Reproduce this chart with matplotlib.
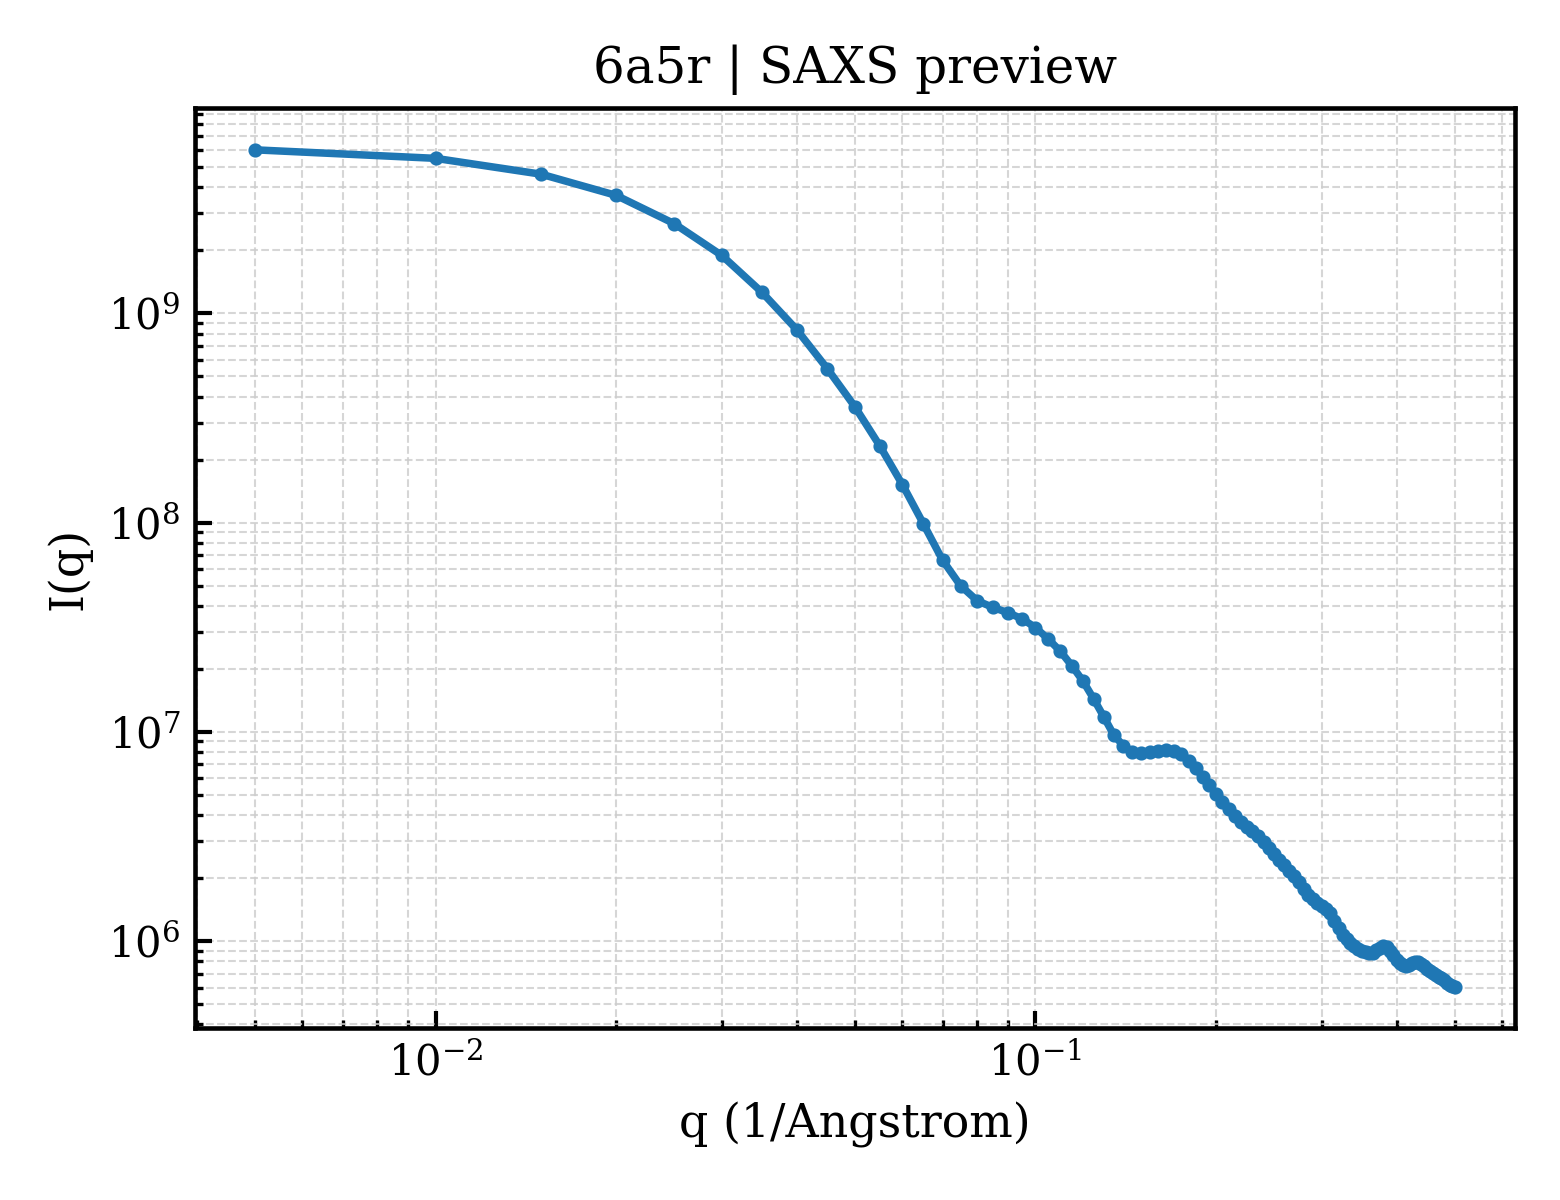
import numpy as np
import matplotlib
matplotlib.use("Agg")
import matplotlib.pyplot as plt

plt.rcParams['font.family'] = 'serif'
plt.rcParams['font.serif'] = ['DejaVu Serif']

# scattering vector q (1/Angstrom), 0.005 .. 0.5
q = [0.005, 0.010, 0.015, 0.020, 0.025, 0.030, 0.035, 0.040, 0.045, 0.050,
     0.055, 0.060, 0.065, 0.070, 0.075, 0.080, 0.085, 0.090, 0.095, 0.100,
     0.105, 0.110, 0.115, 0.120, 0.125, 0.130, 0.135, 0.140, 0.145, 0.150,
     0.155, 0.160, 0.165, 0.170, 0.175, 0.180, 0.185, 0.190, 0.195, 0.200,
     0.205, 0.210, 0.215, 0.220, 0.225, 0.230, 0.235, 0.240, 0.245, 0.250,
     0.255, 0.260, 0.265, 0.270, 0.275, 0.280, 0.285, 0.290, 0.295, 0.300,
     0.305, 0.310, 0.315, 0.320, 0.325, 0.330, 0.335, 0.340, 0.345, 0.350,
     0.355, 0.360, 0.365, 0.370, 0.375, 0.380, 0.385, 0.390, 0.395, 0.400,
     0.405, 0.410, 0.415, 0.420, 0.425, 0.430, 0.435, 0.440, 0.445, 0.450,
     0.455, 0.460, 0.465, 0.470, 0.475, 0.480, 0.485, 0.490, 0.495, 0.500]

# intensity I(q)
intensity = [6.04e9, 5.50e9, 4.62e9, 3.66e9, 2.68e9, 1.89e9, 1.26e9, 8.35e8, 5.43e8, 3.58e8,
             2.33e8, 1.52e8, 9.90e7, 6.62e7, 5.00e7, 4.23e7, 3.93e7, 3.71e7, 3.47e7, 3.15e7,
             2.78e7, 2.43e7, 2.07e7, 1.75e7, 1.44e7, 1.18e7, 9.70e6, 8.60e6, 8.05e6, 7.89e6,
             7.98e6, 8.09e6, 8.20e6, 8.09e6, 7.80e6, 7.26e6, 6.69e6, 6.09e6, 5.55e6, 5.05e6,
             4.63e6, 4.26e6, 3.98e6, 3.73e6, 3.53e6, 3.36e6, 3.18e6, 2.98e6, 2.79e6, 2.61e6,
             2.44e6, 2.30e6, 2.16e6, 2.05e6, 1.92e6, 1.77e6, 1.67e6, 1.59e6, 1.53e6, 1.48e6,
             1.43e6, 1.36e6, 1.25e6, 1.16e6, 1.07e6, 1.02e6, 9.78e5, 9.46e5, 9.21e5, 9.01e5,
             8.86e5, 8.76e5, 8.81e5, 9.06e5, 9.31e5, 9.49e5, 9.36e5, 9.01e5, 8.57e5, 8.15e5,
             7.85e5, 7.68e5, 7.62e5, 7.72e5, 7.89e5, 7.96e5, 7.94e5, 7.80e5, 7.59e5, 7.39e5,
             7.23e5, 7.07e5, 6.91e5, 6.76e5, 6.65e5, 6.51e5, 6.33e5, 6.19e5, 6.11e5, 6.07e5]

fig, ax = plt.subplots(figsize=(5.2, 4), dpi=300)

ax.plot(q, intensity, color='#1f77b4', linewidth=1.8, marker='o', markersize=2.4)
ax.set_xscale('log')
ax.set_yscale('log')

ax.grid(True, which='both', linestyle='--', color='#cccccc', linewidth=0.5, alpha=0.8)
ax.tick_params(which='both', direction='in', labelsize=10)
ax.tick_params(which='major', length=4, width=1.0)
ax.tick_params(which='minor', length=2, width=0.8)
for s in ax.spines.values():
    s.set_linewidth(1.1)

ax.set_xlabel('q (1/Angstrom)', fontsize=11)
ax.set_ylabel('I(q)', fontsize=11)
ax.set_title('6a5r | SAXS preview', fontsize=12)

plt.subplots_adjust(left=0.125, right=0.971, top=0.91, bottom=0.143)
fig.savefig('out.png', dpi=300)
